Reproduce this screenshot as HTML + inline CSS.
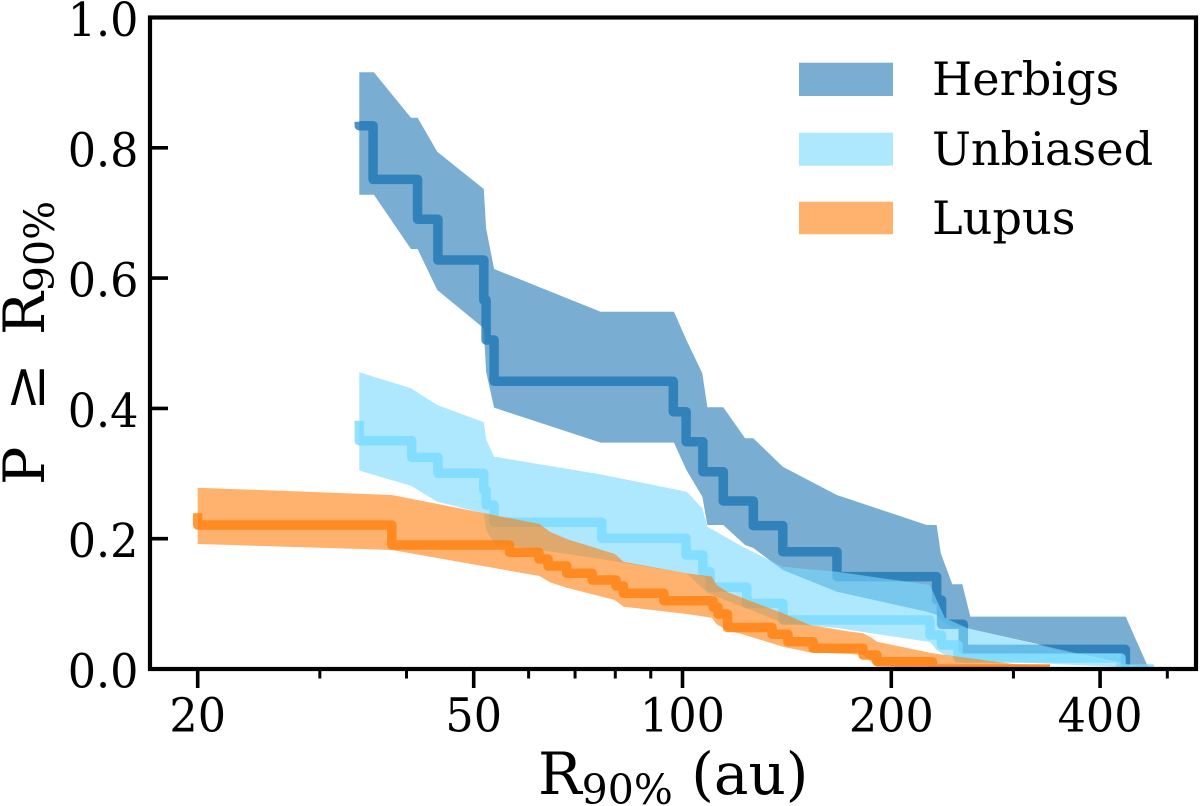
<!DOCTYPE html>
<html lang="en">
<head>
<meta charset="utf-8">
<title>Cumulative distribution of R90%</title>
<style>
  html, body { margin: 0; padding: 0; background: #fff; }
  svg { display: block; }
  text { font-family: "DejaVu Serif", "Liberation Serif", serif; fill: #000; }
</style>
</head>
<body>
<svg id="chart" xmlns="http://www.w3.org/2000/svg" width="1200" height="806" viewBox="0 0 1200 806">
  <defs>
    <clipPath id="plot-clip"><rect x="150" y="17.5" width="1047" height="651.5"></rect></clipPath>
  </defs>
  <g id="series" clip-path="url(#plot-clip)"></g>
  <g id="axes"></g>
  <text x="538" y="794" font-size="58">R<tspan font-size="41" dy="10">90%</tspan><tspan dy="-10" xml:space="preserve"> (au)</tspan></text>
  <text transform="translate(44,485) rotate(-90)" font-size="57">P<tspan x="74">≥</tspan><tspan x="150">R</tspan><tspan font-size="41" dy="10">90%</tspan></text>
  <g>
    <rect x="799" y="62.7" width="94" height="33.3" fill="#1f77b4" fill-opacity="0.6"></rect>
    <text x="932" y="95" font-size="46.2">Herbigs</text>
    <rect x="799" y="132.7" width="94" height="33" fill="#78d9ff" fill-opacity="0.6"></rect>
    <text x="932" y="165" font-size="46.2">Unbiased</text>
    <rect x="799" y="201.7" width="94" height="32.6" fill="#ff7f0e" fill-opacity="0.6"></rect>
    <text x="932" y="234" font-size="46.2">Lupus</text>
  </g>
</svg>
<script>
// Axis tick data
const xMajorTicks = [20, 50, 100, 200, 400];
const xMinorTicks = [30, 40, 60, 70, 80, 90, 300, 500];
const yTicks = [0.0, 0.2, 0.4, 0.6, 0.8, 1.0];

// Herbigs
const herbigsStepR = [34.2, 35.8, 41.5, 44.4, 51.7, 52.1, 53.5, 97.0, 101.2, 107.0, 114.5, 126.5, 139.5, 167.0, 232.5, 236.3, 254.0, 435.0];
const herbigsStepP = [0.8339, 0.7516, 0.6903, 0.6278, 0.5664, 0.505, 0.4416, 0.3949, 0.3489, 0.3028, 0.2579, 0.22, 0.18, 0.1417, 0.1059, 0.0686, 0.0302, 0];
const herbigsStart = 0.84;
const herbigsBandR = [34.2, 35.9, 40.6, 41.5, 44.3, 51.7, 52.1, 53.5, 76.2, 97.2, 101.3, 106.8, 108.6, 114.5, 123.1, 126.5, 139.5, 166.9, 224.9, 232.5, 235.7, 244.9, 253.2, 260.0, 435.5, 467, 472];
const herbigsBandHigh = [0.9159, 0.9159, 0.8462, 0.8462, 0.794, 0.7368, 0.6764, 0.614, 0.5484, 0.5484, 0.505, 0.4539, 0.4017, 0.4017, 0.3541, 0.3541, 0.3105, 0.2671, 0.221, 0.221, 0.1776, 0.13, 0.13, 0.0803, 0.0803, 0.0077, 0];
const herbigsBandLow = [0.728, 0.728, 0.6447, 0.6447, 0.5817, 0.523, 0.4563, 0.4011, 0.3474, 0.3474, 0.3054, 0.2645, 0.221, 0.221, 0.1903, 0.1857, 0.152, 0.1186, 0.088, 0.0829, 0.0752, 0.0645, 0.0645, 0.0614, 0.0077, 0, 0];

// Unbiased
const unbiasedStepR = [34.2, 40.7, 44.4, 51.7, 52.1, 53.5, 76.5, 101.2, 107.0, 109.6, 123.8, 139.6, 227.4, 236.3, 249.6, 428.8, 478];
const unbiasedStepP = [0.3504, 0.3249, 0.3004, 0.2747, 0.2517, 0.2252, 0.2006, 0.175, 0.1493, 0.1254, 0.1008, 0.0752, 0.0522, 0.0368, 0.0169, 0];
const unbiasedStart = 0.3811;
const unbiasedBandR = [34.2, 40.6, 44.3, 51.7, 52.1, 53.5, 76.2, 101.4, 106.8, 108.6, 123.1, 126.5, 139.5, 166.9, 227.4, 232.5, 239.0, 257.2, 428, 467, 478];
const unbiasedBandHigh = [0.4554, 0.4309, 0.4052, 0.3787, 0.3526, 0.3259, 0.2988, 0.2721, 0.2467, 0.2184, 0.1857, 0.1796, 0.157, 0.1493, 0.1289, 0.1059, 0.0783, 0.0629, 0.0077, 0.0031, 0];
const unbiasedBandLow = [0.3044, 0.2813, 0.2568, 0.239, 0.2134, 0.1929, 0.1688, 0.1469, 0.1239, 0.1167, 0.0936, 0.089, 0.0706, 0.0629, 0.0414, 0.0292, 0.0215, 0.0138, 0.0031, 0.0015, 0];

// Lupus
const lupusStepR = [20, 38.1, 56.3, 62.1, 64.0, 68.1, 74.1, 80.2, 82.2, 94.0, 110.7, 112.5, 116.1, 134.6, 141.9, 154.3, 182.1, 190.7, 229.3, 338.7];
const lupusStepP = [0.221, 0.1903, 0.1791, 0.1688, 0.1581, 0.1469, 0.1366, 0.1274, 0.1162, 0.1048, 0.0952, 0.0844, 0.0637, 0.0533, 0.0419, 0.0318, 0.0215, 0.0112, 0];
const lupusStart = 0.239;
const lupusBandR = [20, 38.1, 62.2, 64.4, 68.1, 79.9, 82.2, 101.4, 110.2, 112.0, 116.4, 121.0, 139.6, 152.7, 174.4, 182.1, 187.6, 190.7, 229.3, 299.6, 338.7];
const lupusBandHigh = [0.2783, 0.2671, 0.2226, 0.2107, 0.1995, 0.1765, 0.1647, 0.1469, 0.1417, 0.1289, 0.1177, 0.1105, 0.0855, 0.0675, 0.0573, 0.0548, 0.0476, 0.0419, 0.0241, 0.0077, 0.0061];
const lupusBandLow = [0.1919, 0.1827, 0.1427, 0.1331, 0.1248, 0.1059, 0.0956, 0.0844, 0.0787, 0.0686, 0.0583, 0.0545, 0.0342, 0.0256, 0.023, 0.0215, 0.0097, 0.0046, 0, 0, 0];

const NS = 'http://www.w3.org/2000/svg';
const xScale = r => 682.5 + 693.6 * Math.log10(r / 100);
const yScale = p => 669 - 651.5 * p;
const seriesLayer = document.getElementById('series');
const axesLayer = document.getElementById('axes');

function bandPath(r, hi, lo) {
  let d = '';
  r.forEach((v, i) => { d += (i ? 'L' : 'M') + xScale(v).toFixed(2) + ' ' + yScale(hi[i]).toFixed(2); });
  for (let i = r.length - 1; i >= 0; i--) { d += 'L' + xScale(r[i]).toFixed(2) + ' ' + yScale(lo[i]).toFixed(2); }
  return d + 'Z';
}
function stepPath(r, p, start) {
  let d = 'M' + xScale(r[0]).toFixed(2) + ' ' + yScale(start).toFixed(2);
  p.forEach((v, i) => {
    d += 'V' + yScale(v).toFixed(2);
    d += 'H' + xScale(r[i + 1]).toFixed(2);
  });
  return d + 'V' + yScale(p[p.length - 1]).toFixed(2);
}

// Herbigs marks
const herbigsBand = document.createElementNS(NS, 'path');


herbigsBand.setAttribute('d', bandPath(herbigsBandR, herbigsBandHigh, herbigsBandLow));
herbigsBand.setAttribute('fill', '#1f77b4');
herbigsBand.setAttribute('fill-opacity', '0.6');
seriesLayer.appendChild(herbigsBand);
const herbigsLine = document.createElementNS(NS, 'path');


herbigsLine.setAttribute('d', stepPath(herbigsStepR, herbigsStepP, herbigsStart));
herbigsLine.setAttribute('fill', 'none');
herbigsLine.setAttribute('stroke', '#1f77b4');
herbigsLine.setAttribute('stroke-opacity', '0.8');
herbigsLine.setAttribute('stroke-width', '9.5');
herbigsLine.setAttribute('stroke-linejoin', 'round');
seriesLayer.appendChild(herbigsLine);

// Unbiased marks
const unbiasedBand = document.createElementNS(NS, 'path');


unbiasedBand.setAttribute('d', bandPath(unbiasedBandR, unbiasedBandHigh, unbiasedBandLow));
unbiasedBand.setAttribute('fill', '#78d9ff');
unbiasedBand.setAttribute('fill-opacity', '0.6');
seriesLayer.appendChild(unbiasedBand);
const unbiasedLine = document.createElementNS(NS, 'path');


unbiasedLine.setAttribute('d', stepPath(unbiasedStepR, unbiasedStepP, unbiasedStart));
unbiasedLine.setAttribute('fill', 'none');
unbiasedLine.setAttribute('stroke', '#78d9ff');
unbiasedLine.setAttribute('stroke-opacity', '0.8');
unbiasedLine.setAttribute('stroke-width', '9.5');
unbiasedLine.setAttribute('stroke-linejoin', 'round');
seriesLayer.appendChild(unbiasedLine);

// Lupus marks
const lupusBand = document.createElementNS(NS, 'path');


lupusBand.setAttribute('d', bandPath(lupusBandR, lupusBandHigh, lupusBandLow));
lupusBand.setAttribute('fill', '#ff7f0e');
lupusBand.setAttribute('fill-opacity', '0.6');
seriesLayer.appendChild(lupusBand);
const lupusLine = document.createElementNS(NS, 'path');


lupusLine.setAttribute('d', stepPath(lupusStepR, lupusStepP, lupusStart));
lupusLine.setAttribute('fill', 'none');
lupusLine.setAttribute('stroke', '#ff7f0e');
lupusLine.setAttribute('stroke-opacity', '0.8');
lupusLine.setAttribute('stroke-width', '9.5');
lupusLine.setAttribute('stroke-linejoin', 'round');
seriesLayer.appendChild(lupusLine);

// Frame
const frame = document.createElementNS(NS, 'rect');


frame.setAttribute('x', '150');
frame.setAttribute('y', '17.5');
frame.setAttribute('width', '1046');
frame.setAttribute('height', '651.5');
frame.setAttribute('fill', 'none');
frame.setAttribute('stroke', '#000');
frame.setAttribute('stroke-width', '4.2');
axesLayer.appendChild(frame);

// X major ticks + labels
xMajorTicks.forEach(v => {
  const t = document.createElementNS(NS, 'line');
  
  
  t.setAttribute('x1', xScale(v));
  t.setAttribute('x2', xScale(v));
  t.setAttribute('y1', 669);
  t.setAttribute('y2', 688);
  t.setAttribute('stroke', '#000');
  t.setAttribute('stroke-width', '3.6');
  axesLayer.appendChild(t);
  const l = document.createElementNS(NS, 'text');
  
  
  l.setAttribute('transform', 'translate(' + xScale(v) + ',731.5) scale(1,1.06)');
  l.setAttribute('font-size', '44.5');
  l.setAttribute('text-anchor', 'middle');
  l.textContent = String(v);
  axesLayer.appendChild(l);
});
// X minor ticks
xMinorTicks.forEach(v => {
  const t = document.createElementNS(NS, 'line');
  
  
  t.setAttribute('x1', xScale(v));
  t.setAttribute('x2', xScale(v));
  t.setAttribute('y1', 669);
  t.setAttribute('y2', 678.5);
  t.setAttribute('stroke', '#000');
  t.setAttribute('stroke-width', '3');
  axesLayer.appendChild(t);
});
// Y ticks + labels
yTicks.forEach(v => {
  const t = document.createElementNS(NS, 'line');
  
  
  t.setAttribute('x1', 150);
  t.setAttribute('x2', 168);
  t.setAttribute('y1', yScale(v));
  t.setAttribute('y2', yScale(v));
  t.setAttribute('stroke', '#000');
  t.setAttribute('stroke-width', '3.6');
  axesLayer.appendChild(t);
  const l = document.createElementNS(NS, 'text');
  
  
  l.setAttribute('transform', 'translate(138.5,' + (yScale(v) + 18.5) + ') scale(1,1.06)');
  l.setAttribute('font-size', '44.5');
  l.setAttribute('text-anchor', 'end');
  l.textContent = v.toFixed(1);
  axesLayer.appendChild(l);
});
</script>
</body>
</html>
